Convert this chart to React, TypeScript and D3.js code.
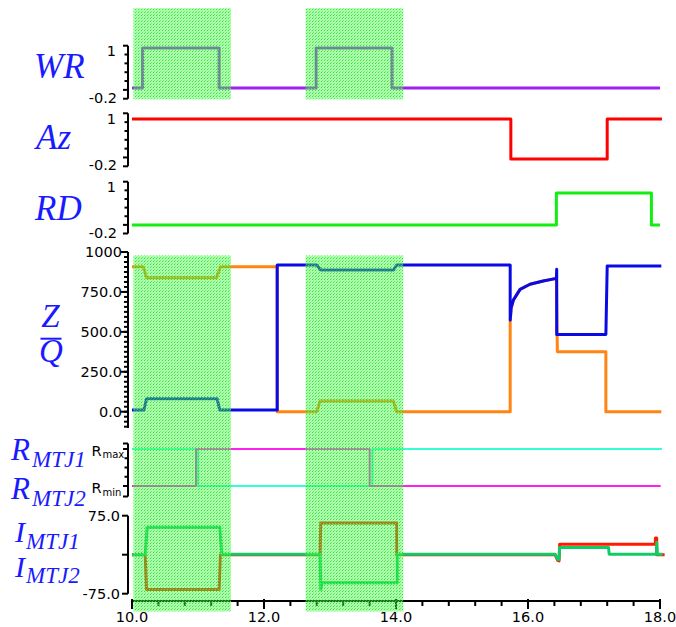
import React from "react";
import * as d3 from "d3";

// ---------- data ----------
const xDomain: [number, number] = [10, 18];
const xMajorTicks = [10, 12, 14, 16, 18];
const xMinorTicks = d3.range(10, 18.001, 0.4);
const shadeSpans: [number, number][] = [[10.02, 11.5], [12.63, 14.11]];

const wrData: [number, number][] = [[10, -0.2], [10.16, -0.2], [10.16, 1], [11.32, 1], [11.32, -0.2], [12.79, -0.2], [12.79, 1], [13.94, 1], [13.94, -0.2], [18.0, -0.2]];
const azData: [number, number][] = [[10, 1], [15.74, 1], [15.74, -0.2], [17.2, -0.2], [17.2, 1], [18.03, 1]];
const rdData: [number, number][] = [[10, -0.2], [16.43, -0.2], [16.43, 1], [17.87, 1], [17.87, -0.2], [18.0, -0.2]];

const zData: [number, number][] = [[10, 10], [10.18, 10], [10.22, 81], [11.29, 81], [11.33, 10], [12.2, 10], [12.2, 918], [12.8, 918], [12.86, 887], [13.96, 887], [14.01, 918], [15.73, 918], [15.73, 574], [15.745, 650], [15.78, 700], [15.88, 766], [16.03, 798], [16.23, 818], [16.43, 835], [16.435, 892], [16.435, 484], [17.18, 484], [17.2, 912], [18.02, 912]];
const qData: [number, number][] = [[10, 908], [10.17, 908], [10.22, 839], [11.28, 839], [11.34, 908], [12.2, 908], [12.2, 0], [12.8, 0], [12.85, 67], [13.96, 67], [14.01, 0], [15.73, 0], [15.73, 564], [15.745, 650], [15.78, 700], [15.88, 766], [16.03, 798], [16.23, 818], [16.43, 835], [16.445, 375], [17.18, 375], [17.18, 0], [18.02, 0]];

const r1Data: [number, number][] = [[10, 1], [11.0, 1], [11.0, 0], [13.64, 0], [13.64, 1], [18.03, 1]];
const r2Data: [number, number][] = [[10, 0], [10.97, 0], [10.97, 1], [13.6, 1], [13.6, 0], [18.01, 0]];

const i1Data: [number, number][] = [[10, 0], [10.2, 0], [10.23, 53], [11.33, 53], [11.36, 1], [12.85, 1], [12.86, -67], [12.88, -54], [14.02, -54], [14.02, 1], [16.41, 1], [16.45, -9], [16.47, -9], [16.48, 14], [17.22, 14], [17.23, 1], [17.95, 1], [17.95, 24], [17.96, 1], [18.04, 1]];
const i2Data: [number, number][] = [[10, 0], [10.2, 0], [10.22, -67], [11.32, -67], [11.34, 0], [12.85, 0], [12.86, 61], [14.01, 61], [14.01, 0], [16.41, 0], [16.45, -11], [16.47, -12], [16.48, 20], [17.93, 20], [17.93, 32], [17.95, 32], [17.95, 0], [18.07, 0]];

const zqTicks = [0, 250, 500, 750, 1000];
const zqTickLabels = ["0.0", "250.0", "500.0", "750.0", "1000"];
const zqMinorTicks = d3.range(-93.75, 1000.01, 31.25);
const iTicks = [75, 0, -75];
const iTickLabels = ["75.0", "", "-75.0"];
const smallTickLabels = ["1", "-0.2"];

// ---------- layout ----------
const W = 676, H = 627;
const axisX = 128;
const xAxisY = 601;
const x = d3.scaleLinear().domain(xDomain).range([132, 660]);

const wrY = d3.scaleLinear().domain([-0.2, 1]).range([88, 48]);
const azY = d3.scaleLinear().domain([-0.2, 1]).range([159, 119]);
const rdY = d3.scaleLinear().domain([-0.2, 1]).range([225, 193]);
const zqY = d3.scaleLinear().domain([0, 1000]).range([411.7, 252]);
const rY = d3.scaleLinear().domain([0, 1]).range([486, 449]);
const iY = d3.scaleLinear().domain([-75, 75]).range([593.7, 515.7]);

const smallPanels = [
  { top: 45.7, bottom: 98.7 },
  { top: 113.3, bottom: 166.3 },
  { top: 181.7, bottom: 233.5 },
];

const LABEL_BLUE = "#1a1aff";
const serif = "'Liberation Serif', 'Times New Roman', serif";
const sans = "'DejaVu Sans', Verdana, sans-serif";

function path(data: [number, number][], y: d3.ScaleLinear<number, number>) {
  return d3.line<[number, number]>().x((d) => x(d[0])).y((d) => y(d[1]))(data) || "";
}

function Bracket({ top, bottom, major }: { top: number; bottom: number; major: number[] }) {
  const s = d3.scaleLinear().domain([0, 6]).range([top, bottom]);
  const ticks = d3.range(0, 7);
  return (
    <g stroke="#000" strokeWidth={2}>
      <line x1={axisX} x2={axisX} y1={top} y2={bottom} />
      {ticks.map((t) => (
        <line key={t} x1={axisX - (major.includes(t) ? 5 : 3.5)} x2={axisX} y1={s(t)} y2={s(t)} />
      ))}
    </g>
  );
}

export default function App() {
  const rTickYs = [443.5, ...d3.range(0, 5).map((k) => rY(1 - k / 4)), 496.5];
  return (
    <svg width={W} height={H} style={{ position: "absolute", left: 0, top: 0, background: "#fff" }}>
      <defs>
        <pattern id="shade" width={3} height={3} patternUnits="userSpaceOnUse">
          <rect width={3} height={3} fill="rgba(70,250,70,0.42)" />
          <rect x={0} y={0} width={1} height={1} fill="rgba(0,215,0,0.7)" />
          <rect x={2} y={1} width={1} height={1} fill="rgba(130,255,130,0.55)" />
          <rect x={1} y={2} width={1} height={1} fill="rgba(20,230,20,0.5)" />
        </pattern>
      </defs>

      {/* small panel axes */}
      {smallPanels.map((p, i) => (
        <g key={i}>
          <Bracket top={p.top} bottom={p.bottom} major={[0, 5, 6]} />
          <text x={116} y={p.top + 5.5} fontFamily={sans} fontSize={14.5} textAnchor="end" dominantBaseline="central">{smallTickLabels[0]}</text>
          <text x={117} y={p.bottom - 1} fontFamily={sans} fontSize={14.5} textAnchor="end" dominantBaseline="central">{smallTickLabels[1]}</text>
        </g>
      ))}

      {/* Z/Q axis */}
      <g stroke="#000" strokeWidth={2}>
        <line x1={axisX} x2={axisX} y1={zqY(1000)} y2={428} />
        {zqMinorTicks.map((t) => (
          <line key={t} x1={axisX - 4} x2={axisX} y1={zqY(t)} y2={zqY(t)} />
        ))}
        {zqTicks.map((t) => (
          <line key={"M" + t} x1={axisX - 7} x2={axisX} y1={zqY(t)} y2={zqY(t)} />
        ))}
      </g>
      {zqTicks.map((t, i) => (
        <text key={t} x={122} y={zqY(t)} fontFamily={sans} fontSize={14.5} textAnchor="end" dominantBaseline="central">{zqTickLabels[i]}</text>
      ))}

      {/* R axis */}
      <g stroke="#000" strokeWidth={2}>
        <line x1={axisX} x2={axisX} y1={443.5} y2={496.5} />
        {rTickYs.map((yy, k) => (
          <line key={k} x1={axisX - (k === 0 || k === 6 || k === 1 || k === 5 ? 5 : 3.5)} x2={axisX} y1={yy} y2={yy} />
        ))}
      </g>
      <text x={91.5} y={455.5} fontFamily={sans} fontSize={14.5}>R</text>
      <text x={102.5} y={458} fontFamily={sans} fontSize={10}>max</text>
      <text x={91.5} y={493} fontFamily={sans} fontSize={14.5}>R</text>
      <text x={102.5} y={496} fontFamily={sans} fontSize={10}>min</text>

      {/* I axis */}
      <g stroke="#000" strokeWidth={2}>
        <line x1={axisX} x2={axisX} y1={iY(75)} y2={iY(-75)} />
        {iTicks.map((t) => (
          <line key={t} x1={axisX - 6} x2={axisX} y1={iY(t)} y2={iY(t)} />
        ))}
      </g>
      {iTicks.map((t, i) => (
        <text key={t} x={120} y={iY(t)} fontFamily={sans} fontSize={14.5} textAnchor="end" dominantBaseline="central">{iTickLabels[i]}</text>
      ))}

      {/* X axis */}
      <g stroke="#000" strokeWidth={2}>
        <line x1={x(10) - 1} x2={x(18) + 1} y1={xAxisY} y2={xAxisY} />
        {xMinorTicks.map((t) => (
          <line key={t} x1={x(t)} x2={x(t)} y1={xAxisY - 1} y2={xAxisY + 5} />
        ))}
        {xMajorTicks.map((t) => (
          <line key={"M" + t} x1={x(t)} x2={x(t)} y1={xAxisY - 2} y2={xAxisY + 8} />
        ))}
      </g>
      {xMajorTicks.map((t) => (
        <text key={t} x={x(t)} y={621.5} fontFamily={sans} fontSize={14.5} textAnchor="middle">{t.toFixed(1)}</text>
      ))}

      {/* series */}
      <g fill="none" strokeLinejoin="round" strokeLinecap="butt">
        <path d={path(wrData, wrY)} stroke="#a020f0" strokeWidth={3} />
        <path d={path(azData, azY)} stroke="#ff0000" strokeWidth={3} />
        <path d={path(rdData, rdY)} stroke="#11ee11" strokeWidth={3} />
        <path d={path(qData, zqY)} stroke="#ff8411" strokeWidth={3} />
        <path d={path(zData, zqY)} stroke="#0a0ae6" strokeWidth={3} />
        <path d={path(r1Data, rY)} stroke="#33ffd6" strokeWidth={2} />
        <path d={path(r2Data, rY)} stroke="#ff22ee" strokeWidth={2} />
        <path d={path(i2Data, iY)} stroke="#ff1a00" strokeWidth={3} />
        <path d={path(i1Data, iY)} stroke="#11cc66" strokeWidth={3} />
      </g>

      {/* shading */}
      {shadeSpans.map(([a, b], i) => (
        <g key={i}>
          <rect x={x(a)} y={8.3} width={x(b) - x(a)} height={91} fill="url(#shade)" />
          <rect x={x(a)} y={255.5} width={x(b) - x(a)} height={356} fill="url(#shade)" />
        </g>
      ))}

      {/* panel titles */}
      <g fill={LABEL_BLUE} fontFamily={serif} fontStyle="italic">
        <text x={34} y={78} fontSize={35}>WR</text>
        <text x={36} y={149} fontSize={35}>Az</text>
        <text x={35} y={220} fontSize={35}>RD</text>
        <text x={50.5} y={327} fontSize={33} textAnchor="middle">Z</text>
        <text x={51} y={362} fontSize={33} textAnchor="middle">Q</text>
        <text x={11} y={460} fontSize={31}>R</text>
        <text x={32} y={467} fontSize={23}>MTJ1</text>
        <text x={11} y={499} fontSize={31}>R</text>
        <text x={32} y={506} fontSize={23}>MTJ2</text>
        <text x={15} y={542} fontSize={30}>I</text>
        <text x={26} y={548.5} fontSize={23}>MTJ1</text>
        <text x={15} y={577} fontSize={30}>I</text>
        <text x={26} y={583} fontSize={23}>MTJ2</text>
      </g>
      <line x1={40.5} x2={61.5} y1={338.7} y2={338.7} stroke={LABEL_BLUE} strokeWidth={2} />
    </svg>
  );
}
